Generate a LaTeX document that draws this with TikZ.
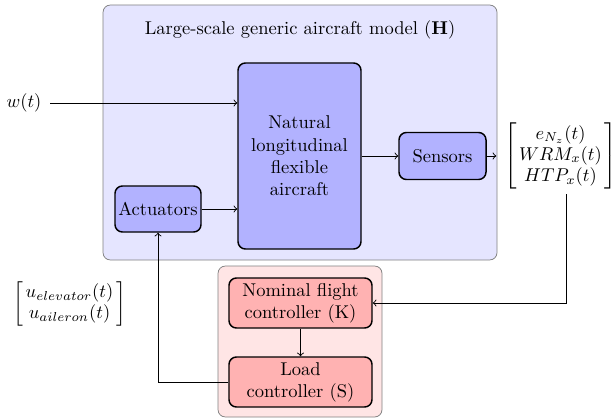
\documentclass[tikz,border=0pt]{standalone}
\usepackage{amsmath}
\usetikzlibrary{calc}
\newcommand{\pu}{0.54pt}
\newcommand{\sigvec}[1]{{\arraycolsep=1.5pt\renewcommand{\arraystretch}{0.95}%
  \left[\begin{array}{c}#1\end{array}\right]}}
\begin{document}
\begin{tikzpicture}[x=\pu,y=-\pu,
  group/.style={draw=black!50, rounded corners=4pt, line width=0.4pt},
  block/.style={draw=black, thick, rounded corners=4pt, align=center, inner sep=0pt},
  conn/.style={->, line width=0.5pt},
]
\useasboundingbox (0,0) rectangle (616,419);

% enclosing groups
\draw[group, fill=blue!10] (103,5) rectangle (497,260);
\draw[group, fill=red!10] (218,266) rectangle (382,417);
\node (title) at (300,30) {Large-scale generic aircraft model ($\mathbf{H}$)};

% plant blocks
\node[block, fill=blue!30, minimum width={123*\pu}, minimum height={186*\pu}] (nat) at (299.5,156)
  {Natural\\longitudinal\\flexible\\aircraft};
\node[block, fill=blue!30, minimum width={87*\pu}, minimum height={47*\pu}] (sens) at (442.5,156) {Sensors};
\node[block, fill=blue!30, minimum width={86*\pu}, minimum height={46*\pu}] (act) at (158,209) {Actuators};

% controller blocks
\node[block, fill=red!30, minimum width={143*\pu}, minimum height={50*\pu}] (K) at (300.5,303)
  {Nominal flight\\controller (K)};
\node[block, fill=red!30, minimum width={143*\pu}, minimum height={50*\pu}] (S) at (300.5,382)
  {Load\\controller (S)};

% signals
\node[outer xsep=1.5pt] (w) at (24,103) {$w(t)$};
\node[inner xsep=4pt, inner ysep=1pt] (ymat) at (560.5,156)
  {$\sigvec{e_{N_z}(t)\\ WRM_x(t)\\ HTP_x(t)}$};
\node (umat) at (69.5,304)
  {$\sigvec{u_{elevator}(t)\\ u_{aileron}(t)}$};
\coordinate (fb) at (566,194);

% connectors
\draw[conn] (w.east) -- (w -| nat.west);
\draw[conn] (act.east) -- (act -| nat.west);
\draw[conn] (sens -| nat.east) -- (sens.west);
\draw[conn] (sens.east) -- (ymat.west);
\draw[conn] (fb) |- (K.east);
\draw[conn] (K.south) -- (S.north);
\draw[conn] (S.west) -| (act.south);
\end{tikzpicture}
\end{document}
